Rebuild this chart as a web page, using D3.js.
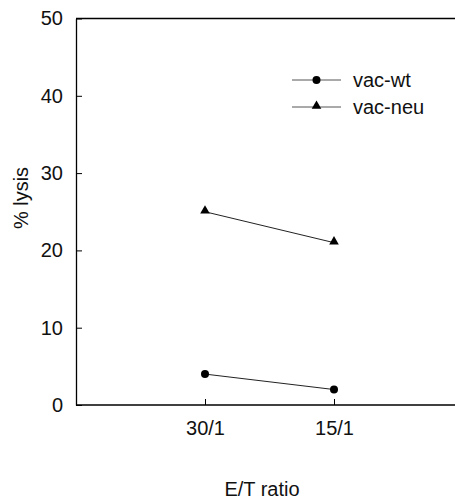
<!DOCTYPE html>
<html>
<head>
<meta charset="utf-8">
<script src="https://cdn.jsdelivr.net/npm/d3@7"></script>
<style>
  body { margin: 0; background: #fff; }
  svg { display: block; font-family: "Liberation Sans", Arial, sans-serif; }
</style>
</head>
<body>
<svg id="chart"></svg>
<script>
// data
const ratios = ["30/1", "15/1"];
const vacWt = [4, 2];
const vacNeu = [25, 21];
const yTicks = [0, 10, 20, 30, 40, 50];

const width = 455;
const height = 500;
const margin = { top: 18.5, right: 0, bottom: 95, left: 76 };

const svg = d3.select("#chart")
    .attr("width", width)
    .attr("height", height);

const x = d3.scalePoint()
    .domain(ratios)
    .range([margin.left, 463])
    .padding(1);

const y = d3.scaleLinear()
    .domain([0, 50])
    .range([height - margin.bottom, margin.top]);

// y axis, ticks pointing into the plot
const yAxis = svg.append("g")
    .attr("transform", `translate(${margin.left},0)`)
    .call(d3.axisLeft(y).tickValues(yTicks).tickSizeInner(-6).tickSizeOuter(0).tickPadding(13));
yAxis.select(".domain").attr("stroke-width", 1.3);
yAxis.selectAll("text").attr("font-size", 20).attr("fill", "#111");

// x axis
const xAxis = svg.append("g")
    .attr("transform", `translate(0,${y(0)})`)
    .call(d3.axisBottom(x).tickSizeInner(-6).tickSizeOuter(0).tickPadding(16));
xAxis.select(".domain").attr("d", `M${margin.left},0H${width}`).attr("stroke-width", 1.3);
xAxis.selectAll("text").attr("font-size", 20).attr("fill", "#111");

// top frame line
svg.append("line")
    .attr("x1", margin.left).attr("x2", width)
    .attr("y1", y(50)).attr("y2", y(50))
    .attr("stroke", "#000").attr("stroke-width", 1.3);

// axis titles
svg.append("text")
    .attr("x", 262).attr("y", 496)
    .attr("text-anchor", "middle")
    .attr("font-size", 20).attr("fill", "#111")
    .text("E/T ratio");

svg.append("text")
    .attr("transform", `translate(28,198) rotate(-90)`)
    .attr("text-anchor", "middle")
    .attr("font-size", 20).attr("fill", "#111")
    .text("% lysis");

const line = d3.line()
    .x((d, i) => x(ratios[i]))
    .y(d => y(d));

const tri = d3.symbol().type(d3.symbolTriangle).size(40);

// vac-wt
svg.append("path")
    .attr("d", line(vacWt))
    .attr("fill", "none").attr("stroke", "#222").attr("stroke-width", 1);
svg.append("g").selectAll("circle")
    .data(vacWt)
    .join("circle")
    .attr("cx", (d, i) => x(ratios[i]))
    .attr("cy", d => y(d))
    .attr("r", 4)
    .attr("fill", "#000");

// vac-neu
svg.append("path")
    .attr("d", line(vacNeu))
    .attr("fill", "none").attr("stroke", "#222").attr("stroke-width", 1);
svg.append("g").selectAll("path")
    .data(vacNeu)
    .join("path")
    .attr("d", tri)
    .attr("transform", (d, i) => `translate(${x(ratios[i])},${y(d) - 1})`)
    .attr("fill", "#000");

// legend
const legend = svg.append("g").attr("transform", "translate(292,80)");
const items = [
  { name: "vac-wt", mark: "circle" },
  { name: "vac-neu", mark: "triangle" }
];
items.forEach((it, i) => {
  const g = legend.append("g").attr("transform", `translate(0,${i * 27})`);
  g.append("line")
      .attr("x1", 0).attr("x2", 49)
      .attr("stroke", "#555").attr("stroke-width", 1);
  if (it.mark === "circle") {
    g.append("circle").attr("cx", 24.5).attr("r", 4).attr("fill", "#000");
  } else {
    g.append("path").attr("d", tri).attr("transform", "translate(24.5,-1)").attr("fill", "#000");
  }
  g.append("text")
      .attr("x", 61).attr("y", 7)
      .attr("font-size", 20).attr("fill", "#111")
      .text(it.name);
});
</script>
</body>
</html>
